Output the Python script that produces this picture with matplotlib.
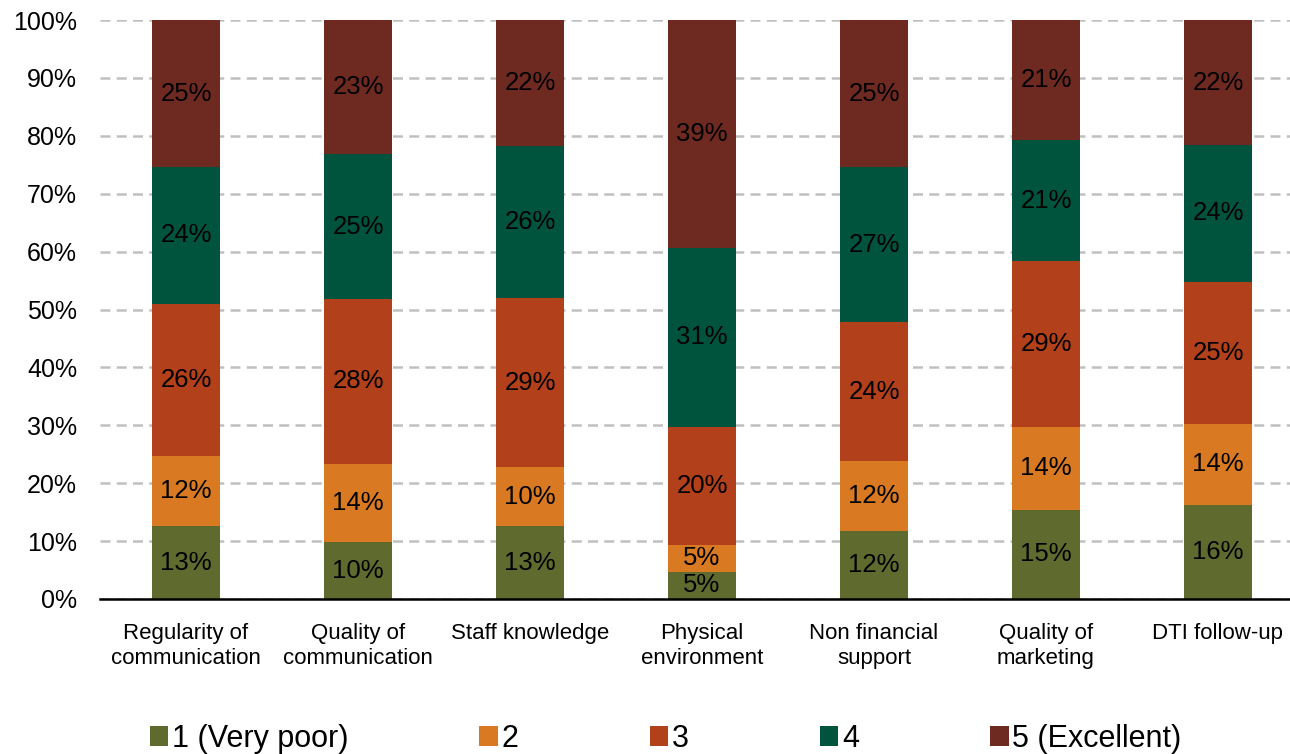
import matplotlib
matplotlib.use("Agg")
import matplotlib.pyplot as plt
import numpy as np

plt.rcParams['font.family'] = ['Liberation Sans', 'DejaVu Sans']

categories = ["Regularity of\ncommunication", "Quality of\ncommunication", "Staff knowledge",
              "Physical\nenvironment", "Non financial\nsupport", "Quality of\nmarketing",
              "DTI follow-up"]
series_names = ["1 (Very poor)", "2", "3", "4", "5 (Excellent)"]

rating_1 = [12.6, 9.8, 12.6, 4.7, 11.7, 15.4, 16.3]
rating_2 = [12.1, 13.6, 10.2, 4.7, 12.1, 14.3, 13.9]
rating_3 = [26.3, 28.4, 29.1, 20.3, 24.0, 28.7, 24.6]
rating_4 = [23.6, 25.0, 26.3, 31.0, 26.8, 20.8, 23.6]
rating_5 = [25.4, 23.2, 21.8, 39.3, 25.4, 20.8, 21.6]

colors = ["#5E6A2E", "#D97A22", "#B2401B", "#00543E", "#6E2A20"]

fig = plt.figure(figsize=(12.9, 7.54), dpi=100)
ax = fig.add_axes([100 / 1290, 155 / 754, 1204 / 1290, 579 / 754])

x = np.arange(len(categories))
bottom = np.zeros(len(categories))
handles = []
for name, vals, col in zip(series_names, [rating_1, rating_2, rating_3, rating_4, rating_5], colors):
    vals = np.array(vals)
    bars = ax.bar(x, vals, 0.4, bottom=bottom, color=col, label=name, zorder=3)
    handles.append(bars)
    for xi, b, v in zip(x, bottom, vals):
        ax.text(xi, b + v / 2, f"{v:.0f}%", ha="center", va="center",
                fontsize=18.5, color="black", zorder=4)
    bottom += vals

ax.set_xlim(-0.5, 6.5)
ax.set_ylim(0, 100)
ax.set_yticks(np.arange(0, 101, 10))
ax.set_yticklabels([f"{t}%" for t in range(0, 101, 10)], fontsize=18)
ax.set_xticks(x)
ax.set_xticklabels(categories, fontsize=16, linespacing=1.28)
ax.tick_params(axis="both", length=0)
ax.tick_params(axis="y", pad=16.5)
ax.tick_params(axis="x", pad=17)
ax.yaxis.grid(True, color="#C0C0C0", linestyle=(0, (4, 2.5)), linewidth=1.8, zorder=0)
ax.set_axisbelow(True)
for s in ["left", "right", "top"]:
    ax.spines[s].set_visible(False)
ax.spines["bottom"].set_linewidth(1.8)
ax.spines["bottom"].set_zorder(5)

fig.legend(handles=handles, labels=series_names, loc="center",
           bbox_to_anchor=(0.516, 0.02), ncol=5, frameon=False, fontsize=22,
           handlelength=0.6, handleheight=0.62, handletextpad=0.12, columnspacing=4.3)

fig.savefig("out.png", dpi=100)
